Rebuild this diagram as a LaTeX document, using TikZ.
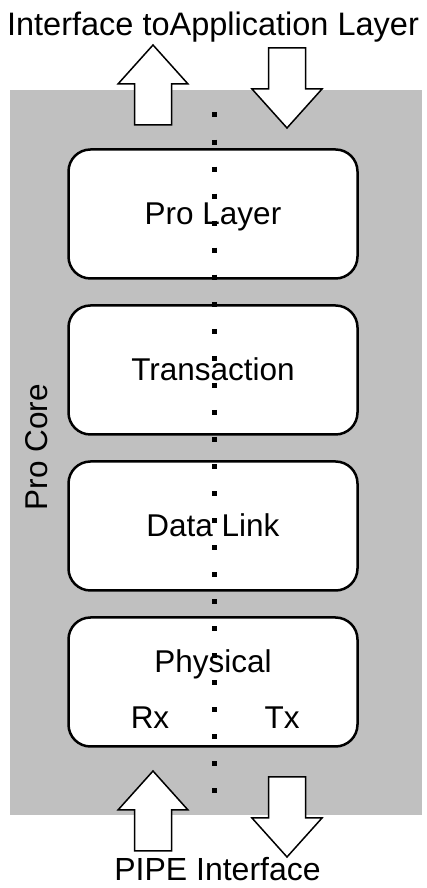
\documentclass[tikz,border=0pt]{standalone}
\usepackage{fontspec}
\setmainfont{Liberation Sans}
\usetikzlibrary{positioning}
\definecolor{coregray}{RGB}{192,192,192}

\begin{document}
\begin{tikzpicture}[x=1pt,y=1pt,node distance=156pt,on grid,
    layer/.style={draw,fill=white,line width=2.5pt,rounded corners=22pt,
      minimum width=289pt,minimum height=129pt,text height=22pt,text depth=0pt,
      font=\fontsize{31.5}{36}\selectfont},
    lbl/.style={font=\fontsize{31.5}{36}\selectfont,anchor=base,inner sep=0pt},
    fat/.style={draw,fill=white,line width=1.5pt},
    uparr/.pic={\draw[fat] (-18.5,0) -- (-18.5,41) -- (-35,41) -- (0,80)
      -- (35,41) -- (18.5,41) -- (18.5,0) -- cycle;}]
  \useasboundingbox (0,0) rectangle (426,888);
  \fill[coregray] (10,73) rectangle (422,798);
  \node[lbl,rotate=90] (core) at (47,441) {Pro Core};
  \node[layer] (pro) at (213,674) {Pro Layer};
  \node[layer] (trans) [below=of pro] {Transaction};
  \node[layer] (dlink) [below=of trans] {Data Link};
  \node[layer] (phys) [below=of dlink] {};
  \node[lbl] (physlbl) at (213,215) {Physical};
  \node[lbl] (rx) at (150,159) {Rx};
  \node[lbl] (tx) at (282,159) {Tx};
  % Rx / Tx split
  \coordinate (septop) at (214,775.5);
  \coordinate (sepbot) at (214,95);
  \draw[line width=5pt,dash pattern=on 5pt off 22.04pt] (septop) -- (sepbot);
  % interface arrows
  \pic at (153,763) {uparr};
  \pic[rotate=180] at (287,840) {uparr};
  \pic at (153,37) {uparr};
  \pic[rotate=180] at (287,111) {uparr};
  \node[lbl,font=\fontsize{32.5}{38}\selectfont] (app) at (213,852) {Interface toApplication Layer};
  \node[lbl,font=\fontsize{32}{38}\selectfont] (pipe) at (217.5,7) {PIPE Interface};
\end{tikzpicture}
\end{document}
